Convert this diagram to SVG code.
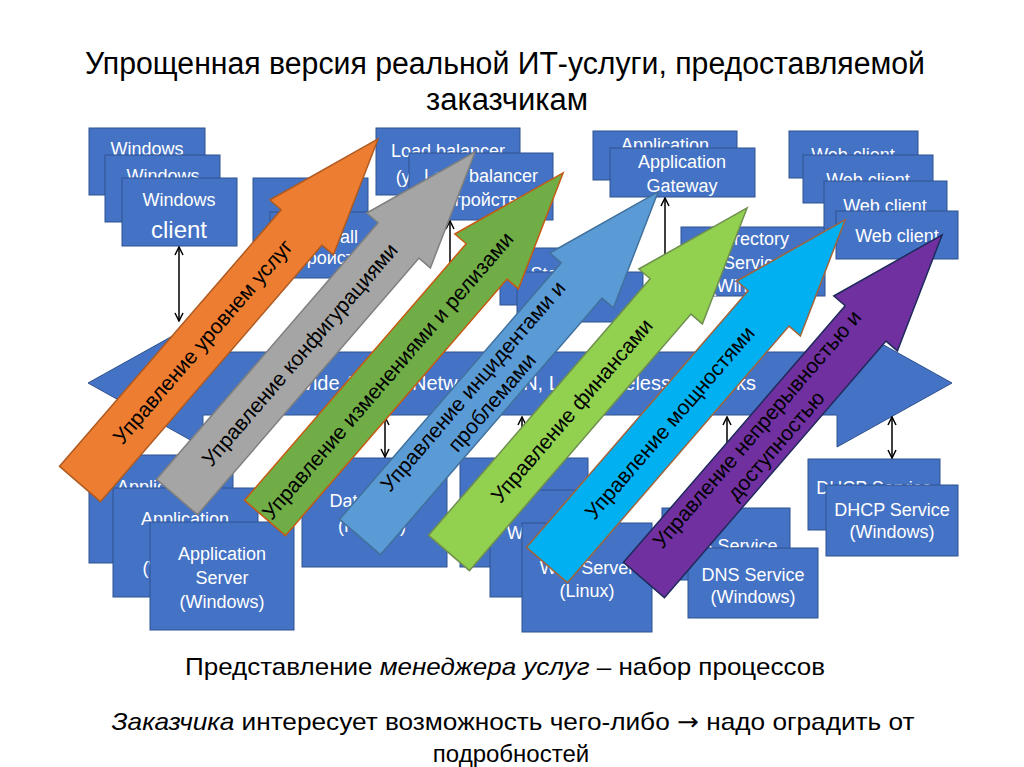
<svg xmlns="http://www.w3.org/2000/svg" width="1024" height="767" viewBox="0 0 1024 767">
<defs>
<style>
.bx{fill:#4472C4;stroke:#2F528F;stroke-width:1}
.bt{fill:#fff;font-family:"Liberation Sans",Arial,sans-serif;font-size:18px;text-anchor:middle}
.wt{fill:#fff;font-family:"Liberation Sans",Arial,sans-serif;font-size:20px}
.at{fill:#000;font-family:"Liberation Sans",Arial,sans-serif;font-size:21px;text-anchor:middle}
.cn{stroke:#000;stroke-width:1.5;fill:none}
.ttl{fill:#000;font-family:"Liberation Sans",Arial,sans-serif;text-anchor:middle}
</style>
<marker id="ah" viewBox="0 0 10 10" refX="9" refY="5" markerWidth="10" markerHeight="10" markerUnits="userSpaceOnUse" orient="auto-start-reverse">
<path d="M1,1 L9,5 L1,9" fill="none" stroke="#000" stroke-width="1.5"/>
</marker>
<polygon id="arr" points="0,-27 339,-27 339,-42 456,0 339,42 339,27 0,27"/>
</defs>
<rect width="1024" height="767" fill="#fff"/>

<g id="title">
<text class="ttl" x="505" y="74" font-size="31" textLength="840" lengthAdjust="spacingAndGlyphs">Упрощенная версия реальной ИТ-услуги, предоставляемой</text>
<text class="ttl" x="507" y="110" font-size="31">заказчикам</text>
</g>

<g id="windows-clients">
<rect class="bx" x="89" y="128" width="116" height="67"/>
<text class="bt" x="147" y="155">Windows</text>
<rect class="bx" x="105" y="155" width="115" height="67"/>
<text class="bt" x="163" y="182">Windows</text>
<rect class="bx" x="122" y="178" width="115" height="68"/>
<text class="bt" x="179" y="206">Windows</text>
<text class="bt" x="179" y="238" style="font-size:24px">client</text>
</g>

<g id="firewall">
<rect class="bx" x="253" y="178" width="115" height="67"/>
<rect class="bx" x="270" y="212" width="115" height="66"/>
<text class="bt" x="327" y="243">Firewall</text>
<text class="bt" x="327" y="264">(устройство)</text>
</g>

<g id="load-balancer">
<rect class="bx" x="376" y="128" width="144" height="67"/>
<text class="bt" x="448" y="157">Load balancer</text>
<text class="bt" x="448" y="183">(устройство)</text>
<rect class="bx" x="409" y="153" width="144" height="67"/>
<text class="bt" x="481" y="182">Load balancer</text>
<text class="bt" x="481" y="206">(устройство)</text>
</g>

<g id="storage">
<rect class="bx" x="500" y="248" width="125" height="57"/>
<text class="bt" x="562" y="280">Storage</text>
<rect class="bx" x="517" y="272" width="126" height="50"/>
</g>

<g id="app-gateway">
<rect class="bx" x="593" y="131" width="144" height="49"/>
<text class="bt" x="665" y="151">Application</text>
<rect class="bx" x="610" y="148" width="145" height="49"/>
<text class="bt" x="682" y="168">Application</text>
<text class="bt" x="682" y="192">Gateway</text>
</g>

<g id="directory">
<rect class="bx" x="681" y="227" width="144" height="69"/>
<text class="bt" x="753" y="245">Directory</text>
<text class="bt" x="753" y="269">Service</text>
<text class="bt" x="753" y="292">(Windows)</text>
</g>

<g id="web-clients">
<rect class="bx" x="789" y="131" width="129" height="47"/>
<text class="bt" x="853" y="161">Web client</text>
<rect class="bx" x="803" y="155" width="130" height="48"/>
<text class="bt" x="868" y="186">Web client</text>
<rect class="bx" x="824" y="181" width="123" height="48"/>
<text class="bt" x="885" y="212">Web client</text>
<rect class="bx" x="836" y="211" width="122" height="48"/>
<text class="bt" x="897" y="242">Web client</text>
</g>

<g id="app-servers">
<rect class="bx" x="89" y="455" width="144" height="108"/>
<text class="bt" x="161" y="493">Application</text>
<rect class="bx" x="113" y="488" width="145" height="109"/>
<text class="bt" x="185" y="525">Application</text>
<text class="bt" x="185" y="574">(Windows)</text>
<rect class="bx" x="150" y="522" width="144" height="108"/>
<text class="bt" x="222" y="560">Application</text>
<text class="bt" x="222" y="584">Server</text>
<text class="bt" x="222" y="608">(Windows)</text>
</g>

<g id="database">
<rect class="bx" x="302" y="458" width="145" height="109"/>
<text class="bt" x="368" y="507">Database</text>
<text class="bt" x="372" y="532">(HP-UX)</text>
</g>

<g id="web-servers">
<rect class="bx" x="460" y="458" width="128" height="109"/>
<rect class="bx" x="490" y="490" width="128" height="107"/>
<text class="bt" x="554" y="539">Web Server</text>
<rect class="bx" x="522" y="523" width="130" height="109"/>
<text class="bt" x="587" y="574">Web Server</text>
<text class="bt" x="587" y="597">(Linux)</text>
</g>

<g id="dns">
<rect class="bx" x="662" y="508" width="128" height="72"/>
<text class="bt" x="726" y="552">DNS Service</text>
<rect class="bx" x="688" y="548" width="130" height="70"/>
<text class="bt" x="753" y="581">DNS Service</text>
<text class="bt" x="753" y="603">(Windows)</text>
</g>

<g id="dhcp">
<rect class="bx" x="808" y="459" width="132" height="71"/>
<text class="bt" x="874" y="494">DHCP Service</text>
<rect class="bx" x="826" y="485" width="132" height="71"/>
<text class="bt" x="892" y="516">DHCP Service</text>
<text class="bt" x="892" y="538">(Windows)</text>
</g>

<g id="wan">
<polygon class="bx" points="88,383 203,319 203,352 837,352 837,319 952,383 837,447 837,415 203,415 203,447"/>
<text class="wt" y="390"><tspan x="294">Wide Area</tspan> <tspan x="412">Network</tspan> <tspan x="485">(WAN, LAN, wireless</tspan> <tspan x="676">networks</tspan></text>
</g>

<g id="connectors">
<line class="cn" x1="179" y1="247" x2="179" y2="321" marker-start="url(#ah)" marker-end="url(#ah)"/>
<line class="cn" x1="450" y1="221" x2="450" y2="300" marker-start="url(#ah)" marker-end="url(#ah)"/>
<line class="cn" x1="665" y1="198" x2="665" y2="300" marker-start="url(#ah)"/>
<line class="cn" x1="385" y1="417" x2="385" y2="457" marker-start="url(#ah)" marker-end="url(#ah)"/>
<line class="cn" x1="522" y1="417" x2="522" y2="457" marker-start="url(#ah)" marker-end="url(#ah)"/>
<line class="cn" x1="727" y1="417" x2="727" y2="507" marker-start="url(#ah)" marker-end="url(#ah)"/>
<line class="cn" x1="892" y1="417" x2="892" y2="458" marker-start="url(#ah)" marker-end="url(#ah)"/>
</g>

<g id="arrow-service-level" transform="translate(80,484) rotate(-49.18)">
<use href="#arr" fill="#ED7D31" stroke="#AE5A21" stroke-width="1.5"/>
<text class="at" x="188" y="7">Управление уровнем услуг</text>
</g>
<g id="arrow-configuration" transform="translate(177,497) rotate(-49.18)">
<use href="#arr" fill="#A5A5A5" stroke="#7F7F7F" stroke-width="1.5"/>
<text class="at" x="188" y="7">Управление конфигурациями</text>
</g>
<g id="arrow-change" transform="translate(265,518) rotate(-49.18)">
<use href="#arr" fill="#70AD47" stroke="#C55A11" stroke-width="1.5"/>
<text class="at" x="188" y="7">Управление изменениями и релизами</text>
</g>
<g id="arrow-incident" transform="translate(360,537) rotate(-49.18)">
<use href="#arr" fill="#5B9BD5" stroke="#41719C" stroke-width="1.5"/>
<text class="at" x="188" y="-6">Управление инцидентами и</text>
<text class="at" x="188" y="19">проблемами</text>
</g>
<g id="arrow-finance" transform="translate(449,553) rotate(-49.18)">
<use href="#arr" fill="#92D050" stroke="#6F8F4F" stroke-width="1.5"/>
<text class="at" x="188" y="7">Управление финансами</text>
</g>
<g id="arrow-capacity" transform="translate(547,565) rotate(-49.18)">
<use href="#arr" fill="#00B0F0" stroke="#A0643A" stroke-width="1.5"/>
<text class="at" x="188" y="7">Управление мощностями</text>
</g>
<g id="arrow-continuity" transform="translate(644,580) rotate(-49.18)">
<use href="#arr" fill="#7030A0" stroke="#1F2A5C" stroke-width="1.5"/>
<text class="at" x="188" y="-6">Управление непрерывностью и</text>
<text class="at" x="188" y="19">доступностью</text>
</g>

<g id="caption">
<text class="ttl" x="505" y="675" font-size="24" textLength="640" lengthAdjust="spacingAndGlyphs">Представление <tspan font-style="italic">менеджера услуг</tspan> – набор процессов</text>
<text class="ttl" x="513" y="730" font-size="24" textLength="803" lengthAdjust="spacingAndGlyphs"><tspan font-style="italic">Заказчика</tspan> интересует возможность чего-либо <tspan font-family="'DejaVu Sans',sans-serif">→</tspan> надо оградить от</text>
<text class="ttl" x="511" y="762" font-size="24">подробностей</text>
</g>
</svg>
